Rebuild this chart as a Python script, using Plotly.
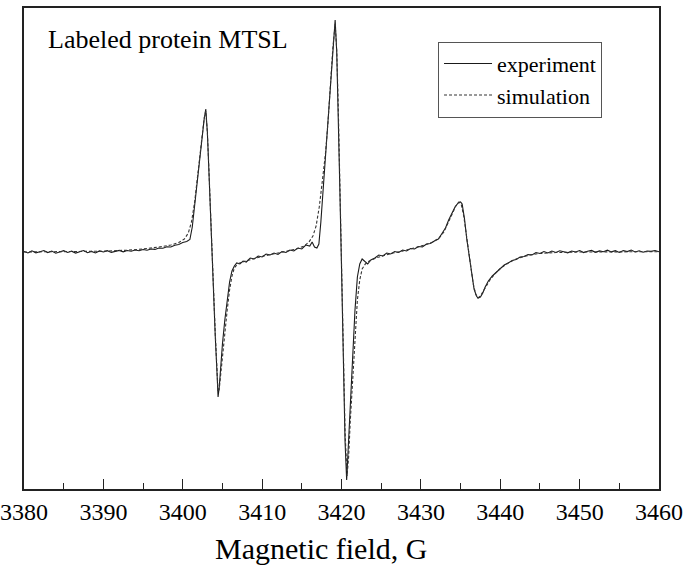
import plotly.graph_objects as go

# Experiment spectrum: magnetic field (G) and signal amplitude (arb. units)
exp_field = [
    3380.0, 3380.5, 3381.0, 3381.5, 3382.0, 3382.5, 3383.0, 3383.5, 3384.0, 3384.5,
    3385.0, 3385.5, 3386.0, 3386.5, 3387.0, 3387.5, 3388.0, 3388.5, 3389.0, 3389.5,
    3390.0, 3390.5, 3391.0, 3391.5, 3392.0, 3392.5, 3393.0, 3393.5, 3394.0, 3394.5,
    3395.0, 3395.5, 3396.0, 3396.5, 3397.0, 3397.5, 3398.0, 3398.5, 3399.0, 3399.5,
    3400.0, 3400.5, 3400.9, 3401.2, 3401.5, 3401.8, 3402.1, 3402.4, 3402.7, 3402.9,
    3403.1, 3403.3, 3403.5, 3403.7, 3403.9, 3404.1, 3404.3, 3404.45, 3404.6, 3404.8,
    3405.0, 3405.3, 3405.6, 3405.9, 3406.2, 3406.5, 3406.8, 3407.2, 3407.6, 3408.0,
    3408.5, 3409.0, 3409.5, 3410.0, 3410.5, 3411.0, 3411.5, 3412.0, 3412.5, 3413.0,
    3413.5, 3414.0, 3414.5, 3415.0, 3415.5, 3416.0, 3416.3, 3416.6, 3416.9, 3417.15,
    3417.4, 3417.7, 3418.0, 3418.3, 3418.6, 3418.9, 3419.2, 3419.4, 3419.6, 3419.8,
    3420.0, 3420.2, 3420.45, 3420.65, 3420.85, 3421.1, 3421.4, 3421.7, 3422.0, 3422.3,
    3422.6, 3422.9, 3423.3, 3423.7, 3424.2, 3424.7, 3425.2, 3425.7, 3426.2, 3426.7,
    3427.2, 3427.7, 3428.2, 3428.7, 3429.2, 3429.7, 3430.2, 3430.7, 3431.2, 3431.7,
    3432.2, 3432.7, 3433.1, 3433.5, 3433.9, 3434.3, 3434.7, 3435.0, 3435.2, 3435.5,
    3435.8, 3436.1, 3436.4, 3436.7, 3437.0, 3437.2, 3437.5, 3437.8, 3438.1, 3438.5,
    3439.0, 3439.5, 3440.0, 3440.5, 3441.0, 3441.5, 3442.0, 3442.5, 3443.0, 3443.5,
    3444.0, 3444.5, 3445.0, 3445.5, 3446.0, 3446.5, 3447.0, 3447.5, 3448.0, 3448.5,
    3449.0, 3449.5, 3450.0, 3450.5, 3451.0, 3451.5, 3452.0, 3452.5, 3453.0, 3453.5,
    3454.0, 3454.5, 3455.0, 3455.5, 3456.0, 3456.5, 3457.0, 3457.5, 3458.0, 3458.5,
    3459.0, 3459.5, 3460.0,
]
exp_signal = [
    0.5, -1.0, 1.2, -0.8, 0.3, 1.5, -0.6, 0.9, -1.2, 0.4,
    1.3, -0.5, 0.8, -1.1, 0.2, 1.4, -0.7, 0.6, -0.9, 1.1,
    0.0, 1.3, -0.4, 0.9, 1.6, 0.2, 1.5, 0.7, 2.0, 1.2,
    2.5, 1.8, 3.0, 2.6, 4.0, 3.8, 5.2, 5.0, 6.8, 7.5,
    9.5, 10.5, 12.5, 25, 48, 70, 90, 112, 133, 143,
    120, 80, 35, -8, -45, -85, -118, -145, -135, -112,
    -92, -68, -46, -30, -19, -14, -11, -12, -9, -10,
    -6, -7, -4, -5, -2, -3, -1, -2.5, 0.5, -0.5,
    2, 1, 4, 3, 7, 6, 10, 5, 4, 8,
    30, 65, 95, 128, 170, 205, 232, 200, 140, 60,
    -15, -100, -190, -228, -195, -150, -100, -58, -25, -12,
    -7, -9, -12, -8, -6, -3, -4, -1, -2, 0.5,
    -0.5, 2, 1, 3.5, 3, 5.5, 5, 8, 8.5, 11,
    13, 19, 24, 32, 38, 45, 49, 50, 48, 33,
    12, -6, -21, -37, -44, -46, -45, -41, -35, -29,
    -24, -20, -16, -13, -11, -8.5, -7.5, -5, -4.5, -2.5,
    -3, -0.5, -1.5, 0.5, -1, 1, -0.5, 1.2, 0.3, -0.8,
    1.0, 0.0, 1.5, -0.6, 0.8, 1.6, -0.3, 1.1, 0.2, 1.8,
    0.1, 1.3, -0.5, 1.4, 0.4, 1.9, 0.0, 1.2, -0.2, 1.0,
    0.6, 1.5, 0.3,
]

# Simulated spectrum
sim_field = [
    3380.0, 3385.0, 3390.0, 3393.0, 3395.0, 3397.0, 3398.5, 3399.5, 3400.2, 3400.7,
    3401.1, 3401.5, 3401.8, 3402.1, 3402.4, 3402.7, 3402.9, 3403.1, 3403.3, 3403.5,
    3403.7, 3403.9, 3404.1, 3404.3, 3404.45, 3404.6, 3404.8, 3405.0, 3405.3, 3405.6,
    3405.9, 3406.2, 3406.5, 3406.9, 3407.5, 3408.5, 3409.5, 3410.5, 3411.5, 3412.5,
    3413.5, 3414.5, 3415.3, 3415.9, 3416.4, 3416.8, 3417.2, 3417.6, 3418.0, 3418.3,
    3418.6, 3418.9, 3419.2, 3419.4, 3419.6, 3419.8, 3420.0, 3420.2, 3420.45, 3420.7,
    3420.9, 3421.1, 3421.4, 3421.7, 3422.0, 3422.3, 3422.6, 3423.0, 3423.5, 3424.5,
    3425.5, 3426.5, 3427.5, 3428.5, 3429.5, 3430.5, 3431.5, 3432.3, 3432.9, 3433.4,
    3433.9, 3434.4, 3434.8, 3435.1, 3435.4, 3435.7, 3436.0, 3436.3, 3436.6, 3436.9,
    3437.2, 3437.5, 3437.8, 3438.2, 3438.7, 3439.3, 3440.0, 3441.0, 3442.0, 3443.0,
    3444.0, 3445.0, 3447.0, 3450.0, 3455.0, 3460.0,
]
sim_signal = [
    0, 0.3, 0.8, 1.8, 3, 5, 7, 9.5, 13, 19,
    30, 50, 70, 92, 114, 134, 141, 120, 82, 38,
    -5, -42, -82, -115, -140, -137, -120, -102, -80, -58,
    -38, -24, -16, -12, -10, -7.5, -5.5, -3.5, -2, -0.5,
    1.5, 3.5, 6, 10, 16, 26, 45, 72, 100, 130,
    168, 203, 228, 202, 142, 62, -12, -95, -180, -224,
    -205, -170, -125, -82, -48, -28, -17, -12, -9, -5.5,
    -3, -1, 0.5, 2.5, 4.5, 7, 10, 14, 20, 29,
    38, 46, 50, 47, 36, 18, 0, -17, -32, -42,
    -46, -44, -40, -34, -28, -22, -16.5, -11, -7, -4.5,
    -2.5, -1.5, -0.5, 0, 0.2, 0.3,
]

x_ticks = [3380, 3390, 3400, 3410, 3420, 3430, 3440, 3450, 3460]

FONT = "Liberation Serif, Times New Roman, serif"

fig = go.Figure()
fig.add_trace(go.Scatter(
    x=exp_field, y=exp_signal, mode="lines", name="experiment",
    line=dict(color="#1a1a1a", width=1.1),
))
fig.add_trace(go.Scatter(
    x=sim_field, y=sim_signal, mode="lines", name="simulation",
    line=dict(color="#333333", width=1.1, dash="3px,2px"),
))

fig.update_layout(
    width=685, height=567,
    margin=dict(l=24, r=26, t=8, b=78, autoexpand=False),
    paper_bgcolor="white", plot_bgcolor="white",
    font=dict(family=FONT, color="black"),
    showlegend=True,
    legend=dict(
        x=0.652, y=0.93, xanchor="left", yanchor="top",
        bgcolor="white", bordercolor="#555555", borderwidth=1,
        font=dict(family=FONT, size=22, color="black"),
        tracegroupgap=0, itemwidth=48,
    ),
    xaxis=dict(
        range=[3380, 3460], tickmode="array", tickvals=x_ticks,
        ticktext=[str(v) for v in x_ticks],
        ticks="inside", ticklen=10, tickwidth=1.2, tickcolor="#222",
        minor=dict(dtick=5, ticks="inside", ticklen=6, tickwidth=1.2, tickcolor="#222"),
        showline=True, linecolor="#222", linewidth=1.5, mirror=True,
        showgrid=False, zeroline=False, automargin=False,
        tickfont=dict(family=FONT, size=24, color="black"),
    ),
    yaxis=dict(
        range=[-237, 244], showticklabels=False, ticks="",
        showline=True, linecolor="#222", linewidth=1.5, mirror=True,
        showgrid=False, zeroline=False, automargin=False,
    ),
    annotations=[
        dict(text="Labeled protein MTSL", xref="paper", yref="paper",
             x=0.0346, y=0.935, xanchor="left", yanchor="middle", showarrow=False,
             font=dict(family=FONT, size=26, color="black")),
        dict(text="Magnetic field, G", xref="paper", yref="paper",
             x=0.468, y=-0.1227, xanchor="center", yanchor="middle", showarrow=False,
             font=dict(family=FONT, size=30, color="black")),
    ],
)

fig.write_html("out.html", config={"displayModeBar": False},
               post_script="document.body.style.margin='0';")
